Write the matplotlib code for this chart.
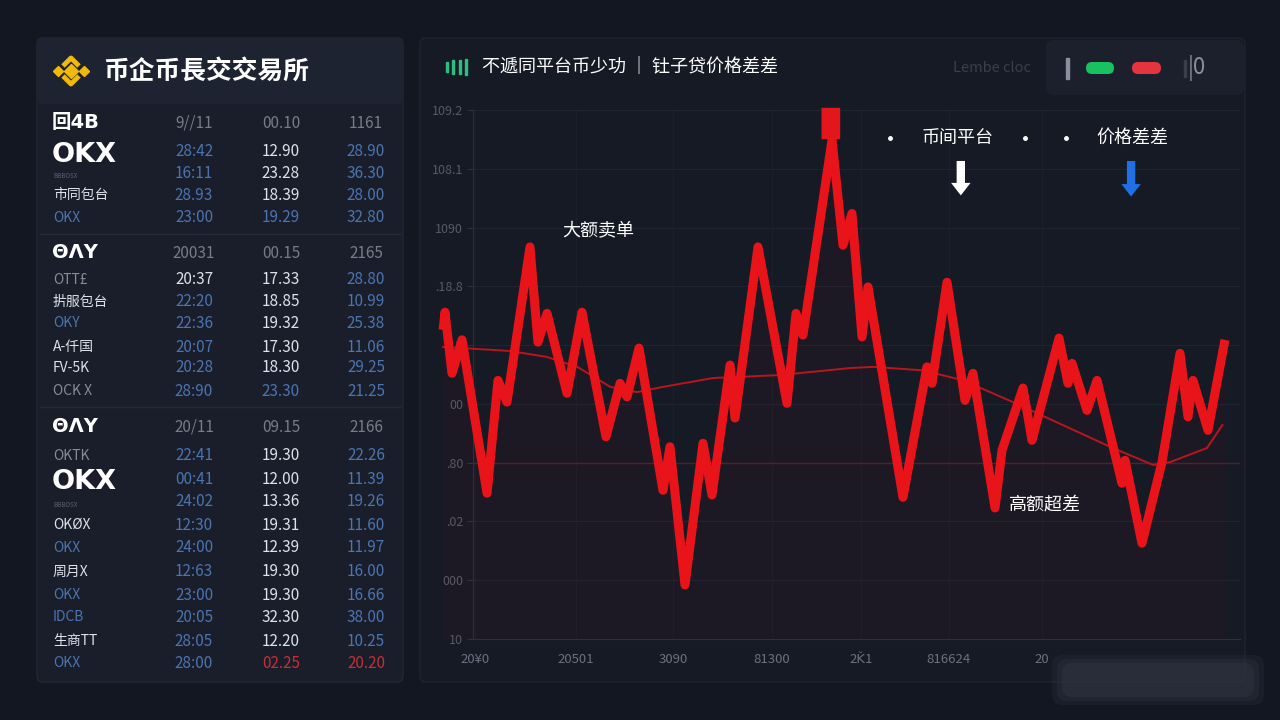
import matplotlib
matplotlib.use("Agg")
import matplotlib.pyplot as plt
from matplotlib.patches import FancyBboxPatch, Rectangle

plt.rcParams['font.family'] = ['Noto Sans CJK SC', 'DejaVu Sans']

# ---- chart data (x: time units 0-100, y: tick index 0-9) ----
price_x = [-3.9, -3.65, -2.74, -1.43, 1.83, 3.26, 4.43, 7.43, 8.47, 9.65, 12.26, 14.21,
           17.34, 19.17, 20.08, 21.64, 24.77, 25.68, 27.64, 29.99, 31.16, 33.51, 34.16,
           37.16, 40.94, 42.11, 43.02, 46.81, 48.24, 49.41, 50.72, 51.5, 56.06, 59.19,
           59.84, 61.8, 64.15, 65.19, 68.06, 68.97, 71.71, 72.88, 76.4, 77.57, 78.1,
           80.05, 81.36, 84.62, 85.01, 87.22, 89.83, 92.18, 93.22, 93.87, 95.83, 98.04]
price_y = [5.26, 5.56, 4.52, 5.09, 2.48, 4.4, 4.03, 6.67, 5.05, 5.54, 4.18, 5.56,
           3.44, 4.35, 4.12, 4.95, 2.53, 3.27, 0.92, 3.33, 2.45, 4.66, 3.76,
           6.67, 4.01, 5.54, 5.17, 8.49, 6.7, 7.24, 5.14, 5.99, 2.41, 4.63,
           4.35, 6.07, 4.06, 4.52, 2.23, 3.21, 4.27, 3.38, 5.12, 4.35, 4.69,
           3.89, 4.4, 2.65, 3.04, 1.63, 3.01, 4.86, 3.78, 4.4, 3.55, 5.09]

avg_x = [-3.9, 4.8, 9.6, 13.6, 17.9, 21.4, 24.8, 31.3, 40.0, 49.2, 52.2, 58.7,
         63.9, 70.4, 76.9, 83.4, 88.7, 90.9, 95.7, 97.7]
avg_y = [4.97, 4.9, 4.8, 4.63, 4.29, 4.2, 4.29, 4.44, 4.49, 4.61, 4.63, 4.57,
         4.4, 4.03, 3.64, 3.25, 2.96, 3.01, 3.25, 3.64]

peak_x, peak_y = 46.6, 8.78

ytick_labels = ["10", "000", ".02", ".80", "00", ".1E", ".18.8", "1090", "108.1", "109.2"]
xtick_pos = [0.3, 13.4, 26.1, 39.0, 50.6, 62.0, 74.2]
xtick_labels = ["20¥0", "20501", "3090", "81300", "2Ǩ1", "816624", "20"]

# ---- left table data ----
row_names = ["回4B", "OKX", "BBBOSX", "市同包台", "OKX",
             "ΘΛY", "OTT£", "扸服包台", "OKY", "A-仟国", "FV-5K", "OCK X",
             "ΘΛY", "OKTK", "OKX", "BBBOSX", "OKØX", "OKX", "周月X", "OKX",
             "IDCB", "生商TT", "OKX"]
col1 = ["9//11", "28:42", "16:11", "28.93", "23:00", "20031", "20:37", "22:20", "22:36",
        "20:07", "20:28", "28:90", "20/11", "22:41", "00:41", "24:02", "12:30", "24:00",
        "12:63", "23:00", "20:05", "28:05", "28:00"]
col2 = ["00.10", "12.90", "23.28", "18.39", "19.29", "00.15", "17.33", "18.85", "19.32",
        "17.30", "18.30", "23.30", "09.15", "19.30", "12.00", "13.36", "19.31", "12.39",
        "19.30", "19.30", "32.30", "12.20", "02.25"]
col3 = ["1161", "28.90", "36.30", "28.00", "32.80", "2165", "28.80", "10.99", "25.38",
        "11.06", "29.25", "21.25", "2166", "22.26", "11.39", "19.26", "11.60", "11.97",
        "16.00", "16.66", "38.00", "10.25", "20.20"]

# styles
name_style = ["head", "big", "tiny", "w", "b", "head", "g", "w", "b", "w", "w", "g",
              "head", "g", "big", "tiny", "w", "b", "w", "b", "b", "w", "b"]
cell_style = ["hhh", "bwb", "bwb", "bwb", "bbb", "hhh", "wwb", "bwb", "bwb", "bwb", "bwb",
              "bbb", "hhh", "bwb", "bwb", "bwb", "bwb", "bwb", "bwb", "bwb", "bwb", "bwb", "brr"]
row_y = [123, 152, 173, 195, 218, 253, 280, 302, 323, 347, 368, 391,
         427, 456, 479, 502, 525, 548, 572, 595, 617, 641, 663]

colors = {"h": "#767c8a", "b": "#4b74b0", "w": "#dde1e8", "r": "#c62f36", "g": "#868b97"}

BG = "#131722"
fig = plt.figure(figsize=(12.8, 7.2), dpi=100)
fig.patch.set_facecolor(BG)

# pixel overlay for panels
ov = fig.add_axes([0, 0, 1, 1])
ov.set_xlim(0, 1280)
ov.set_ylim(720, 0)
ov.axis("off")

ov.add_patch(FancyBboxPatch((37, 38), 366, 644, boxstyle="round,pad=0,rounding_size=6",
                            fc="#191e2a", ec="#222836", lw=1))
ov.add_patch(FancyBboxPatch((37, 38), 366, 66, boxstyle="round,pad=0,rounding_size=6",
                            fc="#1d2331", ec="none"))
ov.add_patch(FancyBboxPatch((420, 38), 825, 644, boxstyle="round,pad=0,rounding_size=6",
                            fc="#161a25", ec="#1e2330", lw=1))
ov.add_patch(FancyBboxPatch((1046, 40), 198, 55, boxstyle="round,pad=0,rounding_size=8",
                            fc="#1b202c", ec="none"))
for sy in [234, 407]:
    ov.plot([40, 400], [sy, sy], color="#252b38", lw=1)

# binance-like logo
yel = "#f0b90b"
ov.plot([71], [71], marker="D", ms=7, color=yel)
ov.plot([58, 84], [71, 71], marker="D", ms=5, color=yel, ls="none")
ov.plot([63, 71, 79], [66, 58, 66], color=yel, lw=3.5, solid_capstyle="butt")
ov.plot([63, 71, 79], [76, 84, 76], color=yel, lw=3.5, solid_capstyle="butt")
ov.text(103, 71, "币企币長交交易所", color="white", fontsize=18.5, fontweight="bold", va="center")

# table
for i, name in enumerate(row_names):
    st = name_style[i]
    y = row_y[i]
    if st == "big":
        ov.text(52, y + 3, name, color="white", fontsize=19.5, fontweight="bold",
                va="center", family=["DejaVu Sans"])
    elif st == "head":
        ov.text(52, y, name, color="white", fontsize=14, fontweight="bold", va="center",
                family=["DejaVu Sans", "Noto Sans CJK SC"])
    elif st == "tiny":
        ov.text(53, y + 3, name, color="#5b6170", fontsize=4.5, va="center")
    else:
        ov.text(53, y, name, color=colors[st], fontsize=10, va="center")
    for cx, col, code in zip([194, 281, 366], [col1, col2, col3], cell_style[i]):
        ov.text(cx, y, col[i], color=colors[code], fontsize=11, va="center", ha="center")

# chart header
for bx, bh in zip([447, 453, 460, 466], [10, 14, 14, 16]):
    ov.add_patch(Rectangle((bx - 1.2, 67 - bh / 2), 2.6, bh, color="#2dbd7e"))
ov.text(482, 67, "不遞同平台币少功 ｜ 钍子贷价格差差", color="white", fontsize=13, va="center")
ov.text(953, 68, "Lembe cloc", color="#3a3f4c", fontsize=10.5, va="center")
ov.add_patch(Rectangle((1066, 58), 3, 21, color="#8a8f9b"))
ov.add_patch(FancyBboxPatch((1086, 62), 28, 12, boxstyle="round,pad=0,rounding_size=6",
                            fc="#18c25f", ec="none"))
ov.add_patch(FancyBboxPatch((1132, 62), 29, 12, boxstyle="round,pad=0,rounding_size=6",
                            fc="#e4353e", ec="none"))
ov.add_patch(Rectangle((1184, 60), 2, 17, color="#3a3f4c"))
ov.text(1188, 68, "|0", color="#8a8f9b", fontsize=16, va="center")

# ---- chart ----
ax = fig.add_axes([473 / 1280, 81 / 720, 767 / 1280, 529 / 720])
ax.set_facecolor("none")
ax.set_xlim(0, 100)
ax.set_ylim(0, 9)
for s in ["top", "right"]:
    ax.spines[s].set_visible(False)
ax.spines["left"].set_color("#2c3140")
ax.spines["bottom"].set_color("#2c3140")
ax.set_yticks(range(10))
ax.set_yticklabels(ytick_labels)
ax.set_xticks(xtick_pos)
ax.set_xticklabels(xtick_labels)
ax.tick_params(axis="y", colors="#2c3140", labelcolor="#545a67", labelsize=9, length=4, pad=3)
ax.tick_params(axis="x", length=0, labelcolor="#6b7180", labelsize=9.5, pad=10)
ax.grid(axis="y", color="#1f2431", lw=0.8)
ax.grid(axis="x", color="#1b202c", lw=0.6)
ax.set_axisbelow(True)
ax.axhline(3, color="#5a1e25", lw=1)

ax.fill_between(price_x, price_y, 0, color="#e8141a", alpha=0.035, lw=0, clip_on=False)
ax.plot(avg_x, avg_y, color="#b8161c", lw=1.4, clip_on=False, zorder=3)
ax.plot(price_x, price_y, color="#e8141a", lw=6.5, solid_joinstyle="round",
        solid_capstyle="butt", clip_on=False, zorder=4)
ax.plot([peak_x], [peak_y], marker=[(-0.62, -1), (0.62, -1), (0.62, 1), (-0.62, 1)],
        ms=21, color="#e3161b", clip_on=False, zorder=5)

ax.text(16.3, 6.95, "大额卖单", color="white", fontsize=13, ha="center", va="center")
ax.text(74.6, 2.28, "高额超差", color="white", fontsize=13, ha="center", va="center")
ax.text(63.2, 8.52, "币间平台", color="white", fontsize=13, ha="center", va="center")
ax.text(86.0, 8.52, "价格差差", color="white", fontsize=13, ha="center", va="center")
for dx in [54.4, 72.0, 77.3]:
    ax.plot([dx], [8.52], marker="o", ms=2.5, color="white")
ax.annotate("", xy=(63.6, 7.5), xytext=(63.6, 8.18),
            arrowprops=dict(arrowstyle="simple,head_width=1.4,head_length=0.9,tail_width=0.6",
                            color="white", lw=0))
ax.annotate("", xy=(85.8, 7.48), xytext=(85.8, 8.18),
            arrowprops=dict(arrowstyle="simple,head_width=1.4,head_length=0.9,tail_width=0.6",
                            color="#1f6fe5", lw=0))

# blurred watermark patch
top = fig.add_axes([0, 0, 1, 1])
top.set_xlim(0, 1280)
top.set_ylim(720, 0)
top.axis("off")
top.patch.set_alpha(0)
for k, a in enumerate([0.25, 0.35, 0.5]):
    top.add_patch(FancyBboxPatch((1052 + k * 5, 655 + k * 4), 212 - k * 10, 50 - k * 8,
                                 boxstyle="round,pad=0,rounding_size=10",
                                 fc="#2f3440", ec="none", alpha=a))

fig.savefig("out.png", dpi=100, facecolor=fig.get_facecolor())
